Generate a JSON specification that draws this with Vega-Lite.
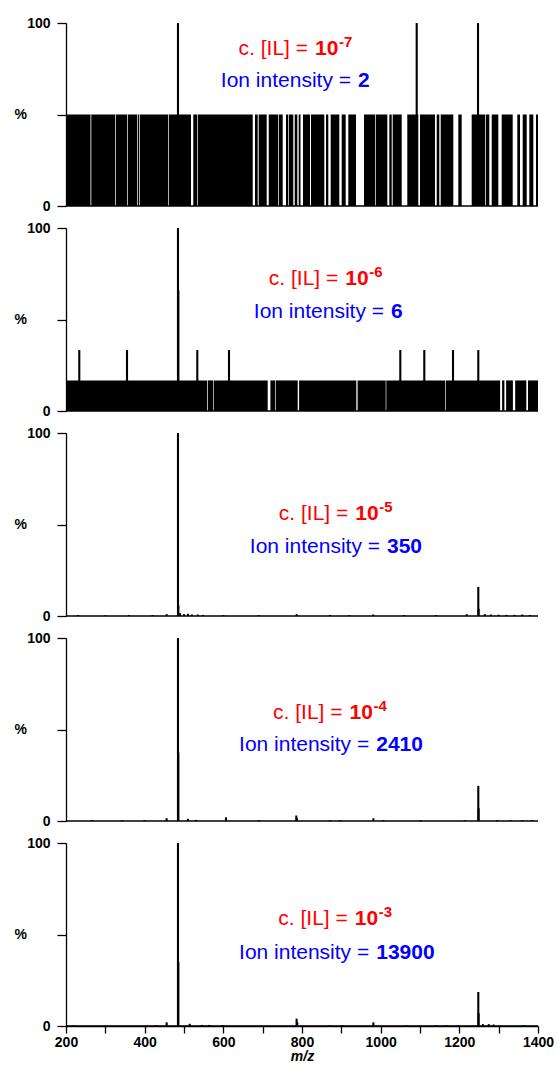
{
  "$schema": "https://vega.github.io/schema/vega-lite/v6.json",
  "autosize": {"type": "pad"},
  "padding": {"left": 14, "top": 16, "right": 3, "bottom": 0},
  "background": "white",
  "bounds": "flush",
  "config": {
    "view": {"stroke": null},
    "font": "Liberation Sans",
    "axis": {"grid": false, "domainColor": "black", "tickColor": "black", "labelColor": "black", "titleColor": "black", "labelFont": "Liberation Sans", "titleFont": "Liberation Sans", "labelFontWeight": "bold", "labelFontSize": 14}
  },
  "data": {"values": [
    {"panel": 1, "kind": "block", "mz": 200, "mz2": 262.3, "pct": 50},
    {"panel": 1, "kind": "block", "mz": 264.3, "mz2": 324.6, "pct": 50},
    {"panel": 1, "kind": "block", "mz": 326.4, "mz2": 355.1, "pct": 50},
    {"panel": 1, "kind": "block", "mz": 356.9, "mz2": 380.5, "pct": 50},
    {"panel": 1, "kind": "block", "mz": 382.3, "mz2": 385.6, "pct": 50},
    {"panel": 1, "kind": "block", "mz": 387.4, "mz2": 459.3, "pct": 50},
    {"panel": 1, "kind": "block", "mz": 461.1, "mz2": 517.8, "pct": 50},
    {"panel": 1, "kind": "block", "mz": 523.6, "mz2": 533.1, "pct": 50},
    {"panel": 1, "kind": "block", "mz": 534.8, "mz2": 674.7, "pct": 50},
    {"panel": 1, "kind": "block", "mz": 680.5, "mz2": 687.4, "pct": 50},
    {"panel": 1, "kind": "block", "mz": 689.9, "mz2": 710.3, "pct": 50},
    {"panel": 1, "kind": "block", "mz": 715.4, "mz2": 739.0, "pct": 50},
    {"panel": 1, "kind": "block", "mz": 740.8, "mz2": 750.9, "pct": 50},
    {"panel": 1, "kind": "block", "mz": 759.3, "mz2": 764.4, "pct": 50},
    {"panel": 1, "kind": "block", "mz": 766.2, "mz2": 777.9, "pct": 50},
    {"panel": 1, "kind": "block", "mz": 781.5, "mz2": 788.1, "pct": 50},
    {"panel": 1, "kind": "block", "mz": 791.6, "mz2": 796.2, "pct": 50},
    {"panel": 1, "kind": "block", "mz": 802.5, "mz2": 820.3, "pct": 50},
    {"panel": 1, "kind": "block", "mz": 822.9, "mz2": 856.7, "pct": 50},
    {"panel": 1, "kind": "block", "mz": 861.0, "mz2": 866.9, "pct": 50},
    {"panel": 1, "kind": "block", "mz": 872.9, "mz2": 894.8, "pct": 50},
    {"panel": 1, "kind": "block", "mz": 900.9, "mz2": 911.1, "pct": 50},
    {"panel": 1, "kind": "block", "mz": 917.7, "mz2": 937.3, "pct": 50},
    {"panel": 1, "kind": "block", "mz": 957.6, "mz2": 985.6, "pct": 50},
    {"panel": 1, "kind": "block", "mz": 987.4, "mz2": 1016.9, "pct": 50},
    {"panel": 1, "kind": "block", "mz": 1022.0, "mz2": 1028.1, "pct": 50},
    {"panel": 1, "kind": "block", "mz": 1030.6, "mz2": 1053.5, "pct": 50},
    {"panel": 1, "kind": "block", "mz": 1067.7, "mz2": 1095.7, "pct": 50},
    {"panel": 1, "kind": "block", "mz": 1100.0, "mz2": 1138.1, "pct": 50},
    {"panel": 1, "kind": "block", "mz": 1142.5, "mz2": 1149.1, "pct": 50},
    {"panel": 1, "kind": "block", "mz": 1152.6, "mz2": 1184.7, "pct": 50},
    {"panel": 1, "kind": "block", "mz": 1197.4, "mz2": 1206.0, "pct": 50},
    {"panel": 1, "kind": "block", "mz": 1231.4, "mz2": 1265.3, "pct": 50},
    {"panel": 1, "kind": "block", "mz": 1267.1, "mz2": 1276.2, "pct": 50},
    {"panel": 1, "kind": "block", "mz": 1282.3, "mz2": 1299.1, "pct": 50},
    {"panel": 1, "kind": "block", "mz": 1307.7, "mz2": 1335.7, "pct": 50},
    {"panel": 1, "kind": "block", "mz": 1347.4, "mz2": 1354.2, "pct": 50},
    {"panel": 1, "kind": "block", "mz": 1361.1, "mz2": 1371.3, "pct": 50},
    {"panel": 1, "kind": "block", "mz": 1377.9, "mz2": 1388.1, "pct": 50},
    {"panel": 1, "kind": "block", "mz": 1394.9, "mz2": 1400, "pct": 50},
    {"panel": 1, "kind": "peak", "mz": 484.7, "pct": 100},
    {"panel": 1, "kind": "peak", "mz": 1091.6, "pct": 100},
    {"panel": 1, "kind": "peak", "mz": 1247.5, "pct": 100},
    {"panel": 1, "kind": "conc", "mz": 815.3, "pct": 82.5, "exp": "-7"},
    {"panel": 1, "kind": "ion", "mz": 924.6, "pct": 64.9, "inten": "2"},

    {"panel": 2, "kind": "block", "mz": 200, "mz2": 558.5, "pct": 16.7},
    {"panel": 2, "kind": "block", "mz": 560.3, "mz2": 573.7, "pct": 16.7},
    {"panel": 2, "kind": "block", "mz": 575.3, "mz2": 712.8, "pct": 16.7},
    {"panel": 2, "kind": "block", "mz": 719.7, "mz2": 732.1, "pct": 16.7},
    {"panel": 2, "kind": "block", "mz": 733.7, "mz2": 789.1, "pct": 16.7},
    {"panel": 2, "kind": "block", "mz": 792.6, "mz2": 938.1, "pct": 16.7},
    {"panel": 2, "kind": "block", "mz": 941.4, "mz2": 1012.8, "pct": 16.7},
    {"panel": 2, "kind": "block", "mz": 1014.3, "mz2": 1164.3, "pct": 16.7},
    {"panel": 2, "kind": "block", "mz": 1165.9, "mz2": 1303.7, "pct": 16.7},
    {"panel": 2, "kind": "block", "mz": 1308.7, "mz2": 1314.6, "pct": 16.7},
    {"panel": 2, "kind": "block", "mz": 1318.9, "mz2": 1336.2, "pct": 16.7},
    {"panel": 2, "kind": "block", "mz": 1342.0, "mz2": 1370.3, "pct": 16.7},
    {"panel": 2, "kind": "block", "mz": 1374.6, "mz2": 1400, "pct": 16.7},
    {"panel": 2, "kind": "peak", "mz": 484.7, "pct": 100},
    {"panel": 2, "kind": "peak", "mz": 485.6, "pct": 66},
    {"panel": 2, "kind": "peak", "mz": 233.8, "pct": 33.3},
    {"panel": 2, "kind": "peak", "mz": 355.1, "pct": 33.3},
    {"panel": 2, "kind": "peak", "mz": 533.8, "pct": 33.3},
    {"panel": 2, "kind": "peak", "mz": 614.4, "pct": 33.3},
    {"panel": 2, "kind": "peak", "mz": 1049.9, "pct": 33.3},
    {"panel": 2, "kind": "peak", "mz": 1110.9, "pct": 33.3},
    {"panel": 2, "kind": "peak", "mz": 1183.9, "pct": 33.3},
    {"panel": 2, "kind": "peak", "mz": 1248.2, "pct": 33.3},
    {"panel": 2, "kind": "conc", "mz": 892.3, "pct": 68.9, "exp": "-6"},
    {"panel": 2, "kind": "ion", "mz": 1008.5, "pct": 50.7, "inten": "6"},

    {"panel": 3, "kind": "peak", "mz": 484.7, "pct": 100},
    {"panel": 3, "kind": "peak", "mz": 485.6, "pct": 6},
    {"panel": 3, "kind": "peak", "mz": 230, "pct": 0.5},
    {"panel": 3, "kind": "peak", "mz": 300, "pct": 0.4},
    {"panel": 3, "kind": "peak", "mz": 360, "pct": 0.5},
    {"panel": 3, "kind": "peak", "mz": 420, "pct": 0.5},
    {"panel": 3, "kind": "peak", "mz": 456, "pct": 1},
    {"panel": 3, "kind": "peak", "mz": 490, "pct": 1.5},
    {"panel": 3, "kind": "peak", "mz": 500, "pct": 1},
    {"panel": 3, "kind": "peak", "mz": 510, "pct": 1.2},
    {"panel": 3, "kind": "peak", "mz": 520, "pct": 0.8},
    {"panel": 3, "kind": "peak", "mz": 535, "pct": 0.8},
    {"panel": 3, "kind": "peak", "mz": 548, "pct": 0.6},
    {"panel": 3, "kind": "peak", "mz": 600, "pct": 0.5},
    {"panel": 3, "kind": "peak", "mz": 690, "pct": 0.5},
    {"panel": 3, "kind": "peak", "mz": 786.5, "pct": 1},
    {"panel": 3, "kind": "peak", "mz": 871, "pct": 0.6},
    {"panel": 3, "kind": "peak", "mz": 920, "pct": 0.5},
    {"panel": 3, "kind": "peak", "mz": 981, "pct": 0.8},
    {"panel": 3, "kind": "peak", "mz": 1060, "pct": 0.5},
    {"panel": 3, "kind": "peak", "mz": 1140, "pct": 0.5},
    {"panel": 3, "kind": "peak", "mz": 1218.7, "pct": 1},
    {"panel": 3, "kind": "peak", "mz": 1248.2, "pct": 15.9},
    {"panel": 3, "kind": "peak", "mz": 1249, "pct": 4},
    {"panel": 3, "kind": "peak", "mz": 1265, "pct": 1},
    {"panel": 3, "kind": "peak", "mz": 1280, "pct": 0.8},
    {"panel": 3, "kind": "peak", "mz": 1300, "pct": 0.7},
    {"panel": 3, "kind": "peak", "mz": 1320, "pct": 0.6},
    {"panel": 3, "kind": "peak", "mz": 1340, "pct": 0.6},
    {"panel": 3, "kind": "peak", "mz": 1360, "pct": 0.8},
    {"panel": 3, "kind": "peak", "mz": 1380, "pct": 0.5},
    {"panel": 3, "kind": "conc", "mz": 917.7, "pct": 52.5, "exp": "-5"},
    {"panel": 3, "kind": "ion", "mz": 998.3, "pct": 34.6, "inten": "350"},

    {"panel": 4, "kind": "peak", "mz": 484.7, "pct": 100},
    {"panel": 4, "kind": "peak", "mz": 485.6, "pct": 37.4},
    {"panel": 4, "kind": "peak", "mz": 266, "pct": 0.5},
    {"panel": 4, "kind": "peak", "mz": 342, "pct": 0.5},
    {"panel": 4, "kind": "peak", "mz": 399.6, "pct": 0.5},
    {"panel": 4, "kind": "peak", "mz": 455.8, "pct": 1.5},
    {"panel": 4, "kind": "peak", "mz": 509.9, "pct": 1.2},
    {"panel": 4, "kind": "peak", "mz": 530, "pct": 0.6},
    {"panel": 4, "kind": "peak", "mz": 606.8, "pct": 2},
    {"panel": 4, "kind": "peak", "mz": 690.7, "pct": 0.5},
    {"panel": 4, "kind": "peak", "mz": 785.5, "pct": 3},
    {"panel": 4, "kind": "peak", "mz": 787, "pct": 1.5},
    {"panel": 4, "kind": "peak", "mz": 871, "pct": 0.5},
    {"panel": 4, "kind": "peak", "mz": 898, "pct": 0.5},
    {"panel": 4, "kind": "peak", "mz": 981.5, "pct": 1.5},
    {"panel": 4, "kind": "peak", "mz": 1007, "pct": 0.5},
    {"panel": 4, "kind": "peak", "mz": 1101.8, "pct": 0.5},
    {"panel": 4, "kind": "peak", "mz": 1214, "pct": 0.5},
    {"panel": 4, "kind": "peak", "mz": 1248.2, "pct": 19.2},
    {"panel": 4, "kind": "peak", "mz": 1249, "pct": 7},
    {"panel": 4, "kind": "peak", "mz": 1296, "pct": 0.5},
    {"panel": 4, "kind": "peak", "mz": 1330, "pct": 0.5},
    {"panel": 4, "kind": "peak", "mz": 1360, "pct": 0.5},
    {"panel": 4, "kind": "peak", "mz": 1385, "pct": 0.5},
    {"panel": 4, "kind": "conc", "mz": 903.0, "pct": 56, "exp": "-4"},
    {"panel": 4, "kind": "ion", "mz": 970.9, "pct": 38.5, "inten": "2410"},

    {"panel": 5, "kind": "peak", "mz": 484.7, "pct": 100},
    {"panel": 5, "kind": "peak", "mz": 485.6, "pct": 35},
    {"panel": 5, "kind": "peak", "mz": 220, "pct": 0.5},
    {"panel": 5, "kind": "peak", "mz": 428.6, "pct": 0.5},
    {"panel": 5, "kind": "peak", "mz": 455.8, "pct": 2},
    {"panel": 5, "kind": "peak", "mz": 514.5, "pct": 1.2},
    {"panel": 5, "kind": "peak", "mz": 546, "pct": 0.6},
    {"panel": 5, "kind": "peak", "mz": 564, "pct": 0.6},
    {"panel": 5, "kind": "peak", "mz": 600, "pct": 0.5},
    {"panel": 5, "kind": "peak", "mz": 786.3, "pct": 4},
    {"panel": 5, "kind": "peak", "mz": 788, "pct": 2},
    {"panel": 5, "kind": "peak", "mz": 871, "pct": 0.5},
    {"panel": 5, "kind": "peak", "mz": 901, "pct": 0.5},
    {"panel": 5, "kind": "peak", "mz": 981.5, "pct": 2},
    {"panel": 5, "kind": "peak", "mz": 1063, "pct": 0.5},
    {"panel": 5, "kind": "peak", "mz": 1142.5, "pct": 0.5},
    {"panel": 5, "kind": "peak", "mz": 1164.9, "pct": 0.5},
    {"panel": 5, "kind": "peak", "mz": 1196.6, "pct": 0.5},
    {"panel": 5, "kind": "peak", "mz": 1248.2, "pct": 18.6},
    {"panel": 5, "kind": "peak", "mz": 1249, "pct": 7},
    {"panel": 5, "kind": "peak", "mz": 1260, "pct": 1},
    {"panel": 5, "kind": "peak", "mz": 1275, "pct": 1},
    {"panel": 5, "kind": "peak", "mz": 1287, "pct": 0.8},
    {"panel": 5, "kind": "peak", "mz": 1362, "pct": 0.5},
    {"panel": 5, "kind": "conc", "mz": 916.4, "pct": 55, "exp": "-3"},
    {"panel": 5, "kind": "ion", "mz": 970.9, "pct": 36.8, "inten": "13900"}
  ]},
  "facet": {"row": {"field": "panel", "type": "ordinal", "header": null}},
  "spacing": {"row": 22},
  "spec": {
    "width": 472,
    "height": 183,
    "encoding": {
      "x": {"field": "mz", "type": "quantitative",
        "scale": {"domain": [200, 1400], "nice": false, "zero": false},
        "axis": {"title": "m/z", "titleFontStyle": "italic", "titleFontWeight": "bold", "titleFontSize": 14, "titlePadding": 0,
          "values": [200, 300, 400, 500, 600, 700, 800, 900, 1000, 1100, 1200, 1300, 1400],
          "format": "d", "labelExpr": "datum.value % 200 == 0 ? datum.label : ''",
          "labelFlush": false, "labelOverlap": false, "tickSize": 7, "tickWidth": 1.3, "domainWidth": 1.5, "labelPadding": 2, "labelFontSize": 14}},
      "y": {"field": "pct", "type": "quantitative",
        "scale": {"domain": [0, 100], "nice": false},
        "axis": {"title": "%", "titleAngle": 0, "titleFontSize": 14, "titleFontWeight": "bold", "titleX": -52, "titleY": 91.5, "titleAlign": "left", "titleBaseline": "middle",
          "values": [0, 50, 100], "labelExpr": "datum.value == 50 ? '' : datum.label",
          "labelFlush": false, "tickSize": 9, "tickWidth": 1.3, "domainWidth": 1.3, "labelPadding": 7, "labelFontSize": 14}}
    },
    "layer": [
      {"transform": [{"filter": "datum.kind == 'block'"}],
       "mark": {"type": "rect", "color": "black"},
       "encoding": {"x2": {"field": "mz2"}, "y2": {"datum": 0}}},
      {"transform": [{"filter": "datum.kind == 'peak'"}],
       "mark": {"type": "rule", "color": "black", "strokeWidth": 2.1},
       "encoding": {"y2": {"datum": 0}}},
      {"transform": [{"filter": "datum.kind == 'conc'"}],
       "mark": {"type": "rule", "color": "black", "strokeWidth": 1.5},
       "encoding": {"x": {"datum": 200}, "x2": {"datum": 1400}, "y": {"datum": 0}}},
      {"transform": [{"filter": "datum.kind == 'conc'"}],
       "mark": {"type": "text", "text": "c. [IL] =", "align": "right", "baseline": "alphabetic", "fontSize": 21, "color": "#ff0000"}},
      {"transform": [{"filter": "datum.kind == 'conc'"}],
       "mark": {"type": "text", "text": "10", "align": "left", "baseline": "alphabetic", "dx": 7, "fontSize": 21, "fontWeight": "bold", "color": "#ff0000"}},
      {"transform": [{"filter": "datum.kind == 'conc'"}],
       "mark": {"type": "text", "align": "left", "baseline": "alphabetic", "dx": 31, "dy": -8, "fontSize": 15, "fontWeight": "bold", "color": "#ff0000"},
       "encoding": {"text": {"field": "exp"}}},
      {"transform": [{"filter": "datum.kind == 'ion'"}],
       "mark": {"type": "text", "text": "Ion intensity =", "align": "right", "baseline": "alphabetic", "fontSize": 21, "color": "#0000ff"}},
      {"transform": [{"filter": "datum.kind == 'ion'"}],
       "mark": {"type": "text", "align": "left", "baseline": "alphabetic", "dx": 7, "fontSize": 21, "fontWeight": "bold", "color": "#0000ff"},
       "encoding": {"text": {"field": "inten"}}}
    ]
  }
}
